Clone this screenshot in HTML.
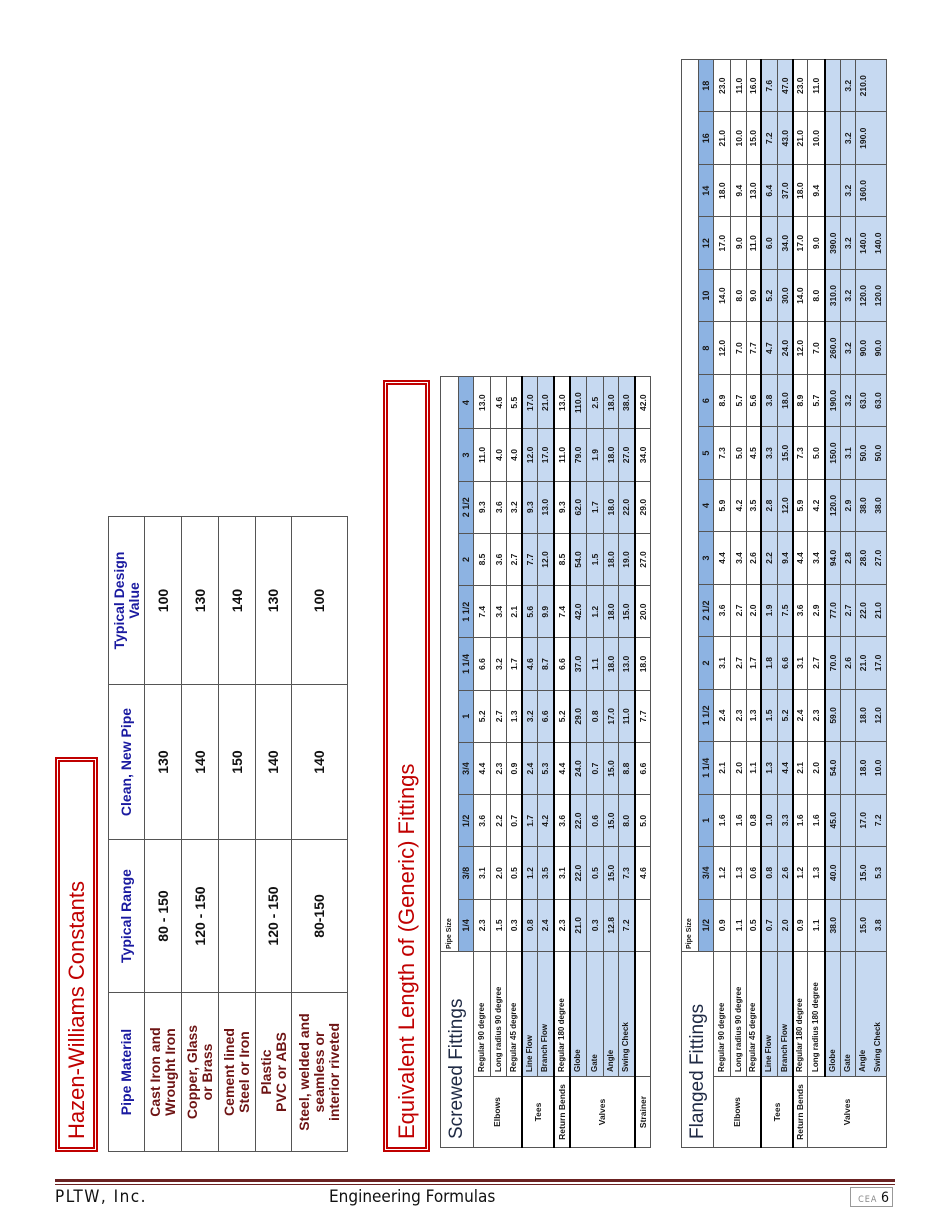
<!DOCTYPE html>
<html><head><meta charset="utf-8">
<style>
html,body{margin:0;padding:0;background:#fff;}
body{width:950px;height:1230px;position:relative;overflow:hidden;font-family:"Liberation Sans",sans-serif;}
#rot{position:absolute;left:0;top:0;width:1230px;height:950px;transform-origin:0 0;transform:translate(0,1230px) rotate(-90deg);}
.box{position:absolute;border:5px double #c00000;box-sizing:border-box;color:#c00000;line-height:1;display:flex;align-items:center;padding-left:8px;}
table{position:absolute;border-collapse:collapse;table-layout:fixed;}
td{padding:0;overflow:hidden;white-space:nowrap;}
.hz td{border:1px solid #555;text-align:center;font-weight:bold;font-size:14px;line-height:15px;font-family:"Liberation Sans Narrow","Liberation Sans",sans-serif;color:#111;}
.hz .h{color:#1a1aa0;}
.hz .m{color:#6e1414;}
.ft td{border:1px solid #555;text-align:center;font-weight:bold;font-size:8.5px;color:#1a1a1a;line-height:10px;}
.ft td.l{text-align:left;padding-left:4px;font-size:8px;}
.ft td.c{background:#fff;font-size:8.5px;}
.ft .b td{background:#c6d9f1;}
.ft .b td.c{background:#fff;}
.ft tr.hd td{background:#8db3e2;font-size:9px;}
.ft tr.t td{border-top:2px solid #000;}
.ft td.ttl{font-weight:normal;font-size:19px;color:#1f2a44;text-align:left;padding-left:8px;background:#fff;}
.ft td.ps{font-size:7px;text-align:left;padding-left:2px;border-bottom:none;background:#fff;}
.nb td{border-bottom:none;}
.nt td{border-top:none;}
#foot{position:absolute;left:55px;top:1179px;width:840px;}
</style></head><body>
<div id="rot">
  <div class="box" style="left:78px;top:55px;width:395px;height:43px;font-size:22px;">Hazen-Williams Constants</div>
  <table class="hz" style="left:78px;top:108px;width:635px;">
    <colgroup><col style="width:159px"><col style="width:153px"><col style="width:155px"><col style="width:168px"></colgroup>
    <tr style="height:36px"><td class="h">Pipe Material</td><td class="h">Typical Range</td><td class="h">Clean, New Pipe</td><td class="h">Typical Design<br>Value</td></tr>
    <tr style="height:37px"><td class="m">Cast Iron and<br>Wrought Iron</td><td>80 - 150</td><td>130</td><td>100</td></tr>
    <tr style="height:37px"><td class="m">Copper, Glass<br>or Brass</td><td>120 - 150</td><td>140</td><td>130</td></tr>
    <tr style="height:37px"><td class="m">Cement lined<br>Steel or Iron</td><td></td><td>150</td><td>140</td></tr>
    <tr style="height:36px"><td class="m">Plastic<br>PVC or ABS</td><td>120 - 150</td><td>140</td><td>130</td></tr>
    <tr style="height:56px"><td class="m">Steel, welded and<br>seamless or<br>interior riveted</td><td>80-150</td><td>140</td><td>100</td></tr>
  </table>

  <div class="box" style="left:78px;top:383px;width:772px;height:47px;font-size:22px;">Equivalent Length of (Generic) Fittings</div>

  <table class="ft" style="left:82px;top:440px;width:772px;">
    <colgroup><col style="width:71px"><col style="width:125px"><col span="11"></colgroup>
    <tr style="height:18px"><td class="ttl" colspan="2" rowspan="2">Screwed Fittings</td><td class="ps" colspan="11">Pipe Size</td></tr>
    <tr class="hd" style="height:15px"><td>1/4</td><td>3/8</td><td>1/2</td><td>3/4</td><td>1</td><td>1 1/4</td><td>1 1/2</td><td>2</td><td>2 1/2</td><td>3</td><td>4</td></tr>
    <tr style="height:17px"><td class="c" rowspan="3">Elbows</td><td class="l">Regular 90 degree</td><td>2.3</td><td>3.1</td><td>3.6</td><td>4.4</td><td>5.2</td><td>6.6</td><td>7.4</td><td>8.5</td><td>9.3</td><td>11.0</td><td>13.0</td></tr>
    <tr style="height:16px"><td class="l">Long radius 90 degree</td><td>1.5</td><td>2.0</td><td>2.2</td><td>2.3</td><td>2.7</td><td>3.2</td><td>3.4</td><td>3.6</td><td>3.6</td><td>4.0</td><td>4.6</td></tr>
    <tr style="height:15px"><td class="l">Regular 45 degree</td><td>0.3</td><td>0.5</td><td>0.7</td><td>0.9</td><td>1.3</td><td>1.7</td><td>2.1</td><td>2.7</td><td>3.2</td><td>4.0</td><td>5.5</td></tr>
    <tr class="b t" style="height:16px"><td class="c" rowspan="2">Tees</td><td class="l">Line Flow</td><td>0.8</td><td>1.2</td><td>1.7</td><td>2.4</td><td>3.2</td><td>4.6</td><td>5.6</td><td>7.7</td><td>9.3</td><td>12.0</td><td>17.0</td></tr>
    <tr class="b" style="height:16px"><td class="l">Branch Flow</td><td>2.4</td><td>3.5</td><td>4.2</td><td>5.3</td><td>6.6</td><td>8.7</td><td>9.9</td><td>12.0</td><td>13.0</td><td>17.0</td><td>21.0</td></tr>
    <tr class="t" style="height:16px"><td class="c">Return Bends</td><td class="l">Regular 180 degree</td><td>2.3</td><td>3.1</td><td>3.6</td><td>4.4</td><td>5.2</td><td>6.6</td><td>7.4</td><td>8.5</td><td>9.3</td><td>11.0</td><td>13.0</td></tr>
    <tr class="b t" style="height:17px"><td class="c" rowspan="4">Valves</td><td class="l">Globe</td><td>21.0</td><td>22.0</td><td>22.0</td><td>24.0</td><td>29.0</td><td>37.0</td><td>42.0</td><td>54.0</td><td>62.0</td><td>79.0</td><td>110.0</td></tr>
    <tr class="b" style="height:17px"><td class="l">Gate</td><td>0.3</td><td>0.5</td><td>0.6</td><td>0.7</td><td>0.8</td><td>1.1</td><td>1.2</td><td>1.5</td><td>1.7</td><td>1.9</td><td>2.5</td></tr>
    <tr class="b" style="height:15px"><td class="l">Angle</td><td>12.8</td><td>15.0</td><td>15.0</td><td>15.0</td><td>17.0</td><td>18.0</td><td>18.0</td><td>18.0</td><td>18.0</td><td>18.0</td><td>18.0</td></tr>
    <tr class="b" style="height:16px"><td class="l">Swing Check</td><td>7.2</td><td>7.3</td><td>8.0</td><td>8.8</td><td>11.0</td><td>13.0</td><td>15.0</td><td>19.0</td><td>22.0</td><td>27.0</td><td>38.0</td></tr>
    <tr class="t" style="height:16px"><td class="c">Strainer</td><td></td><td></td><td>4.6</td><td>5.0</td><td>6.6</td><td>7.7</td><td>18.0</td><td>20.0</td><td>27.0</td><td>29.0</td><td>34.0</td><td>42.0</td></tr>
  </table>

  <table class="ft" style="left:82px;top:681px;width:1089px;">
    <colgroup><col style="width:71px"><col style="width:125px"><col span="17"></colgroup>
    <tr style="height:17px"><td class="ttl" colspan="2" rowspan="2">Flanged Fittings</td><td class="ps" colspan="17">Pipe Size</td></tr>
    <tr class="hd" style="height:15px"><td>1/2</td><td>3/4</td><td>1</td><td>1 1/4</td><td>1 1/2</td><td>2</td><td>2 1/2</td><td>3</td><td>4</td><td>5</td><td>6</td><td>8</td><td>10</td><td>12</td><td>14</td><td>16</td><td>18</td></tr>
    <tr style="height:17px"><td class="c" rowspan="3">Elbows</td><td class="l">Regular 90 degree</td><td>0.9</td><td>1.2</td><td>1.6</td><td>2.1</td><td>2.4</td><td>3.1</td><td>3.6</td><td>4.4</td><td>5.9</td><td>7.3</td><td>8.9</td><td>12.0</td><td>14.0</td><td>17.0</td><td>18.0</td><td>21.0</td><td>23.0</td></tr>
    <tr style="height:16px"><td class="l">Long radius 90 degree</td><td>1.1</td><td>1.3</td><td>1.6</td><td>2.0</td><td>2.3</td><td>2.7</td><td>2.7</td><td>3.4</td><td>4.2</td><td>5.0</td><td>5.7</td><td>7.0</td><td>8.0</td><td>9.0</td><td>9.4</td><td>10.0</td><td>11.0</td></tr>
    <tr style="height:14px"><td class="l">Regular 45 degree</td><td>0.5</td><td>0.6</td><td>0.8</td><td>1.1</td><td>1.3</td><td>1.7</td><td>2.0</td><td>2.6</td><td>3.5</td><td>4.5</td><td>5.6</td><td>7.7</td><td>9.0</td><td>11.0</td><td>13.0</td><td>15.0</td><td>16.0</td></tr>
    <tr class="b t" style="height:17px"><td class="c" rowspan="2">Tees</td><td class="l">Line Flow</td><td>0.7</td><td>0.8</td><td>1.0</td><td>1.3</td><td>1.5</td><td>1.8</td><td>1.9</td><td>2.2</td><td>2.8</td><td>3.3</td><td>3.8</td><td>4.7</td><td>5.2</td><td>6.0</td><td>6.4</td><td>7.2</td><td>7.6</td></tr>
    <tr class="b" style="height:15px"><td class="l">Branch Flow</td><td>2.0</td><td>2.6</td><td>3.3</td><td>4.4</td><td>5.2</td><td>6.6</td><td>7.5</td><td>9.4</td><td>12.0</td><td>15.0</td><td>18.0</td><td>24.0</td><td>30.0</td><td>34.0</td><td>37.0</td><td>43.0</td><td>47.0</td></tr>
    <tr class="t" style="height:15px"><td class="c">Return Bends</td><td class="l">Regular 180 degree</td><td>0.9</td><td>1.2</td><td>1.6</td><td>2.1</td><td>2.4</td><td>3.1</td><td>3.6</td><td>4.4</td><td>5.9</td><td>7.3</td><td>8.9</td><td>12.0</td><td>14.0</td><td>17.0</td><td>18.0</td><td>21.0</td><td>23.0</td></tr>
    <tr style="height:17px"><td class="c" rowspan="5">Valves</td><td class="l">Long radius 180 degree</td><td>1.1</td><td>1.3</td><td>1.6</td><td>2.0</td><td>2.3</td><td>2.7</td><td>2.9</td><td>3.4</td><td>4.2</td><td>5.0</td><td>5.7</td><td>7.0</td><td>8.0</td><td>9.0</td><td>9.4</td><td>10.0</td><td>11.0</td></tr>
    <tr class="b t" style="height:16px"><td class="l">Globe</td><td>38.0</td><td>40.0</td><td>45.0</td><td>54.0</td><td>59.0</td><td>70.0</td><td>77.0</td><td>94.0</td><td>120.0</td><td>150.0</td><td>190.0</td><td>260.0</td><td>310.0</td><td>390.0</td><td></td><td></td><td></td></tr>
    <tr class="b" style="height:15px"><td class="l">Gate</td><td></td><td></td><td></td><td></td><td></td><td>2.6</td><td>2.7</td><td>2.8</td><td>2.9</td><td>3.1</td><td>3.2</td><td>3.2</td><td>3.2</td><td>3.2</td><td>3.2</td><td>3.2</td><td>3.2</td></tr>
    <tr class="b nb" style="height:15px"><td class="l">Angle</td><td>15.0</td><td>15.0</td><td>17.0</td><td>18.0</td><td>18.0</td><td>21.0</td><td>22.0</td><td>28.0</td><td>38.0</td><td>50.0</td><td>63.0</td><td>90.0</td><td>120.0</td><td>140.0</td><td>160.0</td><td>190.0</td><td>210.0</td></tr>
    <tr class="b nt" style="height:16px"><td class="l">Swing Check</td><td>3.8</td><td>5.3</td><td>7.2</td><td>10.0</td><td>12.0</td><td>17.0</td><td>21.0</td><td>27.0</td><td>38.0</td><td>50.0</td><td>63.0</td><td>90.0</td><td>120.0</td><td>140.0</td><td></td><td></td><td></td></tr>
  </table>
</div>

<div id="foot">
  <div style="height:3px;background:#6b2222;"></div>
  <div style="height:1px;margin-top:2px;background:#6b2222;"></div>
  <div style="position:absolute;left:0;top:8px;font-size:17px;color:#111;letter-spacing:1.5px;font-family:'DejaVu Sans Condensed','Liberation Sans Narrow','Liberation Sans',sans-serif;">PLTW, Inc.</div>
  <div style="position:absolute;left:274px;top:8px;font-size:17px;color:#111;font-family:'DejaVu Sans Condensed','Liberation Sans Narrow','Liberation Sans',sans-serif;">Engineering Formulas</div>
  <div style="position:absolute;left:795px;top:8px;width:43px;height:20px;border:1px solid #999;box-sizing:border-box;text-align:right;padding-right:3px;line-height:18px;font-family:'DejaVu Sans Condensed','Liberation Sans',sans-serif;"><span style="font-size:9px;color:#888;letter-spacing:1px;">CEA </span><span style="font-size:14px;color:#111;">6</span></div>
</div>
</body></html>
